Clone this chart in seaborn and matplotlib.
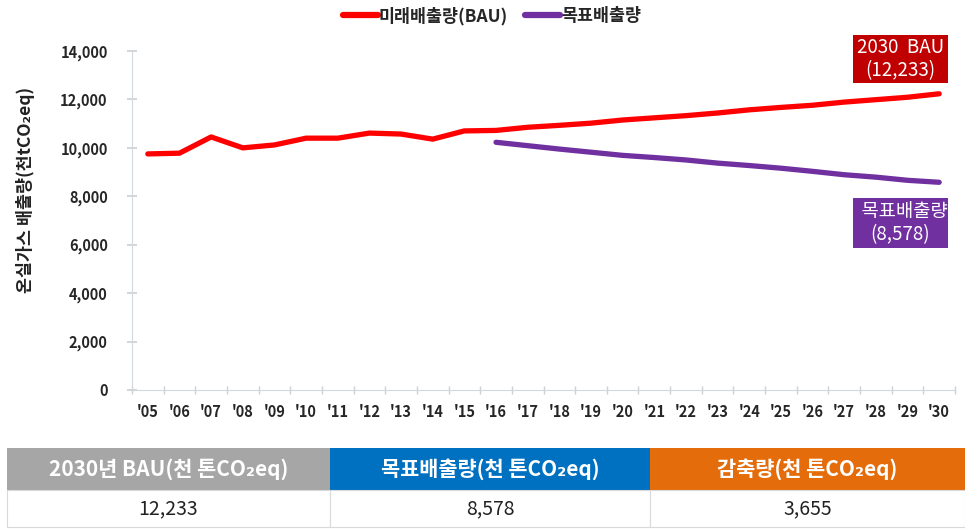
import matplotlib
matplotlib.use("Agg")
import matplotlib.pyplot as plt
from matplotlib.patches import Rectangle
from matplotlib.lines import Line2D
import seaborn as sns
import pandas as pd

# Chart data
years = ["'05", "'06", "'07", "'08", "'09", "'10", "'11", "'12", "'13", "'14", "'15", "'16", "'17",
         "'18", "'19", "'20", "'21", "'22", "'23", "'24", "'25", "'26", "'27", "'28", "'29", "'30"]
bau = [9750, 9780, 10450, 10000, 10120, 10400, 10400, 10610, 10570, 10360, 10700, 10720, 10850,
       10930, 11020, 11150, 11240, 11330, 11440, 11570, 11670, 11760, 11890, 11990, 12090, 12233]
target_years = years[11:]
target = [10230, 10090, 9950, 9820, 9690, 9600, 9500, 9370, 9270, 9160, 9030, 8890, 8790, 8660, 8578]

table_headers = ["2030년 BAU(천 톤CO₂eq)", "목표배출량(천 톤CO₂eq)", "감축량(천 톤CO₂eq)"]
table_values = ["12,233", "8,578", "3,655"]
header_colors = ["#A6A6A6", "#0070C0", "#E46C0A"]

sns.set_theme(style="white")
plt.rcParams['font.family'] = ['Noto Sans CJK KR', 'DejaVu Sans']

df_bau = pd.DataFrame({"pos": range(len(years)), "value": bau})
df_tgt = pd.DataFrame({"pos": [years.index(y) for y in target_years], "value": target})

fig = plt.figure(figsize=(9.65, 5.30), dpi=100)
W, H = 965, 530
ax = fig.add_axes([132 / W, 1 - 390 / H, (955 - 132) / W, (390 - 51) / H])

sns.lineplot(data=df_bau, x="pos", y="value", ax=ax, color="#FF0000", linewidth=3.8)
sns.lineplot(data=df_tgt, x="pos", y="value", ax=ax, color="#7030A0", linewidth=3.8)

ax.set_xlim(-0.47, 25.44)
ax.set_ylim(0, 14000)
ax.set_yticks(range(0, 14001, 2000))
ax.set_yticklabels([f"{v:,}" for v in range(0, 14001, 2000)], fontsize=10.5, fontweight="bold")
ax.set_xticks(range(len(years)))
ax.set_xticklabels(years, fontsize=10.5, fontweight="bold")
ax.set_xticks([i + 0.5 for i in range(-1, len(years))], minor=True)
ax.tick_params(axis="x", which="major", length=0, pad=10)
ax.tick_params(axis="x", which="minor", length=6, direction="inout", color="#D0D0D0", bottom=True)
ax.tick_params(axis="y", length=7, direction="inout", color="#D0D0D0", left=True, pad=14)
ax.set_xlabel("")
ax.set_ylabel("")
for side in ["top", "right"]:
    ax.spines[side].set_visible(False)
for side in ["left", "bottom"]:
    ax.spines[side].set_color("#D0D8E0")
    ax.spines[side].set_linewidth(0.8)

fig.text(26 / W, 1 - 190 / H, "온실가스 배출량(천tCO₂eq)", rotation=90, ha="center", va="center",
         fontsize=12.5, fontweight="bold", color="#222222")

# legend
handles = [Line2D([], [], color="#FF0000", linewidth=4.5, solid_capstyle="round"),
           Line2D([], [], color="#7030A0", linewidth=4.5, solid_capstyle="round")]
fig.legend(handles, ["미래배출량(BAU)", "목표배출량"], loc="center", bbox_to_anchor=(492 / W, 1 - 16 / H),
           ncol=2, frameon=False, handlelength=2.0, handletextpad=0.05, columnspacing=1.0,
           prop={"size": 12.5, "weight": "bold"})

# annotation boxes
def label_box(x0, y0, x1, y1, color, text):
    rect = Rectangle((x0 / W, 1 - y1 / H), (x1 - x0) / W, (y1 - y0) / H, transform=fig.transFigure,
                     facecolor=color, edgecolor="none")
    fig.patches.append(rect)
    t = fig.text((x0 + x1) / 2 / W, 1 - (y0 + y1) / 2 / H, text, ha="center", va="center",
                 color="white", fontsize=13.5, linespacing=1.1)
    t.set_clip_path(rect)

label_box(853, 35, 948, 83, "#C00000", "2030  BAU\n(12,233)")
label_box(853, 198, 948, 248, "#7030A0", "  목표배출량\n(8,578)")

# summary table
tax = fig.add_axes([0, 0, 1, 1], facecolor="none")
tax.set_xlim(0, W)
tax.set_ylim(H, 0)
tax.axis("off")
bounds = [7, 330, 650, 965]
for i, (head, val, col) in enumerate(zip(table_headers, table_values, header_colors)):
    x0, x1 = bounds[i], bounds[i + 1]
    tax.add_patch(Rectangle((x0, 448), x1 - x0, 42, facecolor=col, edgecolor="none"))
    tax.add_patch(Rectangle((x0, 490), x1 - x0, 37, facecolor="white", edgecolor="#D9D9D9", linewidth=0.8))
    tax.text((x0 + x1) / 2, 469, head, ha="center", va="center", color="white",
             fontsize=15, fontweight="bold")
    tax.text((x0 + x1) / 2, 509, val, ha="center", va="center", color="#222222", fontsize=14)

fig.savefig("out.png", dpi=100)
